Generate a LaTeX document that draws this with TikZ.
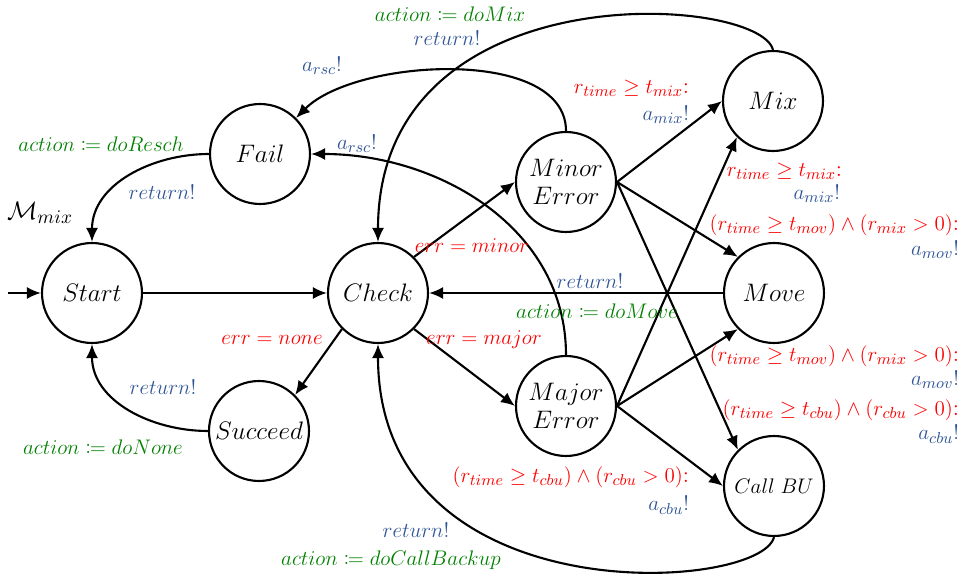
\documentclass[tikz,border=0pt]{standalone}
\usepackage{mathtools}
\usetikzlibrary{arrows.meta}
\definecolor{guardred}{RGB}{255,0,0}
\definecolor{syncblue}{RGB}{47,85,151}
\definecolor{updgreen}{RGB}{0,128,0}
\begin{document}
\begin{tikzpicture}[x=0.02cm,y=0.02cm,very thick,>={Latex[length=2.8mm,width=2.4mm]},
	state/.style={draw,circle,minimum size=2cm,inner sep=0pt,font=\fontsize{13.5}{16}\selectfont},
	lbl/.style={font=\fontsize{13}{15}\selectfont,inner sep=1pt},
	guard/.style={lbl,text=guardred},
	sync/.style={lbl,text=syncblue},
	upd/.style={lbl,text=updgreen}]
	\useasboundingbox (0,0) rectangle (975,-577);
	% states
	\node[state] (start) at (92,-293) {$Start$};
	\node[state] (check) at (378,-293) {$Check$};
	\node[state] (fail) at (260,-154) {$Fail$};
	\node[state] (succeed) at (259,-431) {$Succeed$};
	\node[state,align=center] (minor) at (566,-182) {$Minor$\\$Error$};
	\node[state,align=center] (major) at (566,-406) {$Major$\\$Error$};
	\node[state] (mix) at (773,-101) {$Mix$};
	\node[state] (move) at (774,-293) {$Move$};
	\node[state,font=\fontsize{12}{15}\selectfont] (callbu) at (774,-486) {$Call\;BU$};
	\node[lbl,font=\fontsize{15.5}{17}\selectfont] (model) at (40,-213) {$\mathcal{M}_{mix}$};
	\coordinate (init) at (8,-293);
	% edges
	\draw[->] (init) -- (start);
	\draw[->] (start) -- (check);
	\draw[->] (check.south west) -- (succeed.north east);
	\draw[->] (succeed.west) to[out=180,in=-90] (start.south);
	\draw[->] (fail.west) to[out=180,in=90] (start.north);
	\draw[->] (check.north east) -- (minor.west);
	\draw[->] (check.south east) -- (major.west);
	\draw[->] (minor.north) to[out=90,in=45,looseness=0.8] (fail.north east);
	\draw[->] (major.north) to[out=90,in=0] (fail.east);
	\draw[->] (mix.north) .. controls +(-13,55) and +(0,273) .. (check.north);
	\draw[->] (callbu.south) .. controls +(-13,-55) and +(0,-273) .. (check.south);
	\draw[->] (move) -- (check);
	\foreach \src/\dst in {minor/mix.west,minor/move.north west,minor/callbu.north west,
		major/mix.south west,major/move.south west,major/callbu.west}
	{
		\draw[->] (\src.east) -- (\dst);
		}
	% labels
	\node[upd] (l-resch) at (101,-144) {$action \coloneqq doResch$};
	\node[sync] (l-ret-fail) at (162,-192) {$return!$};
	\node[sync] (l-ret-succ) at (163,-387) {$return!$};
	\node[upd] (l-none) at (103,-447) {$action \coloneqq doNone$};
	\node[guard] (l-err-none) at (272,-340) {$err = none$};
	\node[guard] (l-err-minor) at (472,-246) {$err = minor$};
	\node[guard] (l-err-major) at (484,-340) {$err = major$};
	\node[sync] (l-rsc1) at (322,-66) {$a_{rsc}!$};
	\node[sync] (l-rsc2) at (357,-144) {$a_{rsc}!$};
	\node[upd] (l-domix) at (450,-14) {$action \coloneqq doMix$};
	\node[sync] (l-ret-mix) at (447,-38) {$return!$};
	\node[sync] (l-ret-move) at (590,-281) {$return!$};
	\node[upd] (l-domove) at (597,-311) {$action \coloneqq doMove$};
	\node[sync] (l-ret-cbu) at (416,-530) {$return!$};
	\node[upd] (l-docbu) at (391,-560) {$action \coloneqq doCallBackup$};
	\node[guard,anchor=east] (g-mix1) at (692,-88) {$r_{time} \geq t_{mix}$:};
	\node[sync,anchor=east] (s-mix1) at (692,-115) {$a_{mix}!$};
	\node[guard,anchor=east] (g-mix2) at (845,-171) {$r_{time} \geq t_{mix}$:};
	\node[sync,anchor=east] (s-mix2) at (843,-194) {$a_{mix}!$};
	\node[guard,anchor=east] (g-mov1) at (962,-225) {$(r_{time} \geq t_{mov}) \wedge (r_{mix} > 0)$:};
	\node[sync,anchor=east] (s-mov1) at (962,-250) {$a_{mov}!$};
	\node[guard,anchor=east] (g-mov2) at (962,-356) {$(r_{time} \geq t_{mov}) \wedge (r_{mix} > 0)$:};
	\node[sync,anchor=east] (s-mov2) at (962,-380) {$a_{mov}!$};
	\node[guard,anchor=east] (g-cbu1) at (962,-410) {$(r_{time} \geq t_{cbu}) \wedge (r_{cbu} > 0)$:};
	\node[sync,anchor=east] (s-cbu1) at (962,-434) {$a_{cbu}!$};
	\node[guard,anchor=east] (g-cbu2) at (692,-477) {$(r_{time} \geq t_{cbu}) \wedge (r_{cbu} > 0)$:};
	\node[sync,anchor=east] (s-cbu2) at (692,-505) {$a_{cbu}!$};
\end{tikzpicture}
\end{document}
